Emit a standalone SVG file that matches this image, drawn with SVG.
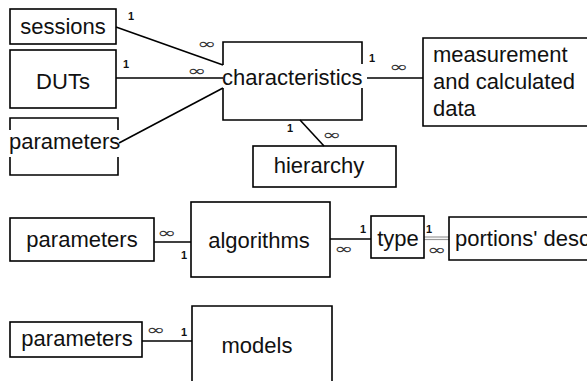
<svg xmlns="http://www.w3.org/2000/svg" width="587" height="381" viewBox="0 0 587 381">
<style>
.b{fill:none;stroke:#000;stroke-width:1.6}
.t{font-family:"Liberation Sans",Arial,sans-serif;font-size:22px;fill:#111}
.m{text-anchor:middle}
.c{stroke:#000;stroke-width:1.6;fill:none}
.g{stroke:#999;stroke-width:1.2;fill:none}
.one{font-family:"Liberation Sans",Arial,sans-serif;font-size:11px;font-weight:bold;fill:#111;text-anchor:middle}
.inf{font-family:"DejaVu Sans",sans-serif;font-size:15px;fill:#333;text-anchor:middle}
</style>
<rect width="587" height="381" fill="#fff"/>
<g id="connectors">
<line class="c" x1="116" y1="27" x2="223" y2="65"/>
<line class="c" x1="116" y1="78" x2="223" y2="78"/>
<line class="c" x1="119" y1="143" x2="223" y2="88"/>
<line class="c" x1="367" y1="78" x2="423" y2="78"/>
<line class="c" x1="300" y1="120" x2="324" y2="146"/>
<line class="c" x1="154" y1="242" x2="191" y2="242"/>
<line class="c" x1="330" y1="239" x2="371" y2="239"/>
<line class="g" x1="424" y1="237" x2="449" y2="237"/>
<line class="g" x1="424" y1="239.5" x2="449" y2="239.5"/>
<line class="c" x1="142" y1="341" x2="192" y2="341"/>
<text class="one" x="131" y="20">1</text>
<text class="inf" x="207" y="49" textLength="19" lengthAdjust="spacingAndGlyphs">∞</text>
<text class="one" x="126" y="68">1</text>
<text class="inf" x="197" y="76" textLength="19" lengthAdjust="spacingAndGlyphs">∞</text>
<text class="one" x="372" y="62">1</text>
<text class="inf" x="399" y="72" textLength="19" lengthAdjust="spacingAndGlyphs">∞</text>
<text class="one" x="290" y="132">1</text>
<text class="inf" x="332" y="140" textLength="19" lengthAdjust="spacingAndGlyphs">∞</text>
<text class="inf" x="167" y="238" textLength="19" lengthAdjust="spacingAndGlyphs">∞</text>
<text class="one" x="184" y="259">1</text>
<text class="one" x="363" y="233">1</text>
<text class="inf" x="344" y="254" textLength="19" lengthAdjust="spacingAndGlyphs">∞</text>
<text class="one" x="429" y="233">1</text>
<text class="inf" x="437" y="255" textLength="19" lengthAdjust="spacingAndGlyphs">∞</text>
<text class="inf" x="156" y="335" textLength="19" lengthAdjust="spacingAndGlyphs">∞</text>
<text class="one" x="184" y="336">1</text>
</g>
<g id="sessions">
<rect class="b" x="10" y="9" width="106" height="35"/>
<text class="t m" x="63" y="34">sessions</text>
</g>
<g id="duts">
<rect class="b" x="10" y="50" width="106" height="58"/>
<text class="t m" x="63" y="89">DUTs</text>
</g>
<g id="parameters1">
<path class="b" d="M10,130 V118 H118 V130 M10,157 V175 H118 V157"/>
<text class="t" x="9" y="149">parameters</text>
</g>
<g id="characteristics">
<path class="b" d="M223,65 V42 H362 V64 M223,88 V120 H362 V88"/>
<text class="t" x="222" y="85">characteristics</text>
</g>
<g id="measurement">
<path class="b" d="M590,38 H423 V126 H590"/>
<text class="t" x="433" y="62">measurement</text>
<text class="t" x="433" y="89">and calculated</text>
<text class="t" x="433" y="116">data</text>
</g>
<g id="hierarchy">
<rect class="b" x="253" y="146" width="143" height="41"/>
<text class="t m" x="319" y="173">hierarchy</text>
</g>
<g id="parameters2">
<rect class="b" x="10" y="218" width="144" height="43"/>
<text class="t m" x="82" y="247">parameters</text>
</g>
<g id="algorithms">
<rect class="b" x="191" y="202" width="139" height="75"/>
<text class="t m" x="259" y="248">algorithms</text>
</g>
<g id="type">
<rect class="b" x="371" y="216" width="53" height="42"/>
<text class="t m" x="398" y="246">type</text>
</g>
<g id="portions">
<path class="b" d="M590,217 H449 V260 H590"/>
<text class="t" x="455" y="246">portions' desc</text>
</g>
<g id="parameters3">
<rect class="b" x="10" y="322" width="132" height="35"/>
<text class="t m" x="77" y="346">parameters</text>
</g>
<g id="models">
<path class="b" d="M192,390 V306 H332 V390"/>
<text class="t m" x="257" y="353">models</text>
</g>
</svg>
